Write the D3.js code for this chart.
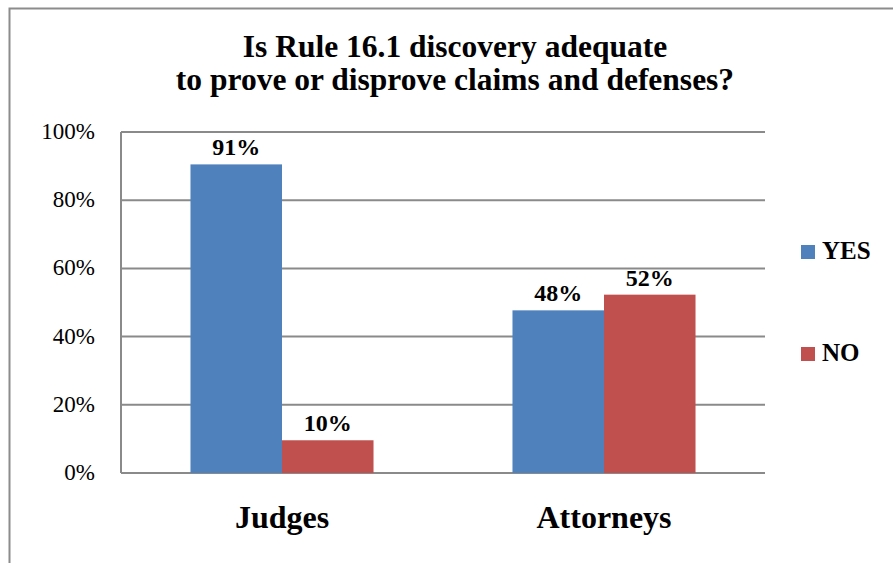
<!DOCTYPE html>
<html><head><meta charset="utf-8">
<script src="https://cdn.jsdelivr.net/npm/d3@7"></script>
<style>body{margin:0;background:#fff}svg{display:block}</style>
</head><body>
<svg id="c" width="893" height="563"></svg>
<script>
const categories = ["Judges", "Attorneys"];
const seriesNames = ["YES", "NO"];
const yesValues = [0.905, 0.477];
const noValues = [0.096, 0.523];
const yTicks = [0, 0.2, 0.4, 0.6, 0.8, 1.0];
const titleLines = ["Is Rule 16.1 discovery adequate", "to prove or disprove claims and defenses?"];
const colors = ["#4F81BD", "#C0504D"];

const FONT = '"Liberation Serif"';
const svg = d3.select("#c");

// chart frame
svg.append("rect").attr("x", 9.5).attr("y", 8.5).attr("width", 1000).attr("height", 1000)
  .attr("fill", "none").attr("stroke", "#8c8c8c").attr("stroke-width", 2);

const plot = {left: 121, right: 765, top: 132, bottom: 473};
const x0 = d3.scaleBand().domain(categories).range([plot.left, plot.right]).paddingInner(0).paddingOuter(0);
const x1 = d3.scaleBand().domain(seriesNames).range([0, x0.bandwidth()]).paddingInner(0).paddingOuter(0.7592);
const y = d3.scaleLinear().domain([0, 1]).range([plot.bottom, plot.top]);

svg.append("g").selectAll("line").data(yTicks).join("line")
  .attr("x1", plot.left).attr("x2", plot.right)
  .attr("y1", d => y(d)).attr("y2", d => y(d))
  .attr("stroke", "#8a8a8a").attr("stroke-width", 2);
svg.append("line").attr("x1", plot.left).attr("x2", plot.left).attr("y1", plot.top).attr("y2", plot.bottom)
  .attr("stroke", "#8a8a8a").attr("stroke-width", 2);

svg.append("g").selectAll("text").data(yTicks).join("text")
  .attr("x", 95).attr("y", d => y(d) + 7)
  .attr("text-anchor", "end").style("font-family", FONT).attr("font-size", 23).attr("fill", "#000")
  .text(d => d3.format(".0%")(d));

const data = categories.map((c, i) => ({cat: c, vals: [
  {s: "YES", v: yesValues[i]}, {s: "NO", v: noValues[i]}]}));

const groups = svg.append("g").selectAll("g").data(data).join("g")
  .attr("transform", d => `translate(${x0(d.cat)},0)`);
groups.selectAll("rect").data(d => d.vals).join("rect")
  .attr("x", d => x1(d.s)).attr("width", x1.bandwidth())
  .attr("y", d => y(d.v)).attr("height", d => y(0) - y(d.v))
  .attr("fill", (d, i) => colors[i]);
groups.selectAll("text").data(d => d.vals).join("text")
  .attr("x", d => x1(d.s) + x1.bandwidth() / 2).attr("y", d => y(d.v) - 9)
  .attr("text-anchor", "middle").style("font-family", FONT).attr("font-weight", "bold")
  .attr("font-size", 24).attr("fill", "#000")
  .text(d => Math.round(d.v * 100) + "%");

svg.append("g").selectAll("text").data(categories).join("text")
  .attr("x", d => x0(d) + x0.bandwidth() / 2).attr("y", 528)
  .attr("text-anchor", "middle").style("font-family", FONT).attr("font-weight", "bold")
  .attr("font-size", 32).attr("fill", "#000").text(d => d);

svg.append("g").selectAll("text").data(titleLines).join("text")
  .attr("x", 455).attr("y", (d, i) => 57 + i * 33)
  .attr("text-anchor", "middle").style("font-family", FONT).attr("font-weight", "bold")
  .attr("font-size", 31.5).attr("fill", "#000").text(d => d);

const leg = svg.append("g").selectAll("g").data(seriesNames).join("g")
  .attr("transform", (d, i) => `translate(801,${245 + i * 102})`);
leg.append("rect").attr("width", 14).attr("height", 14).attr("fill", (d, i) => colors[i]);
leg.append("text").attr("x", 21).attr("y", 14).style("font-family", FONT).attr("font-weight", "bold")
  .attr("font-size", 25).attr("fill", "#000").text(d => d);
</script>
</body></html>
